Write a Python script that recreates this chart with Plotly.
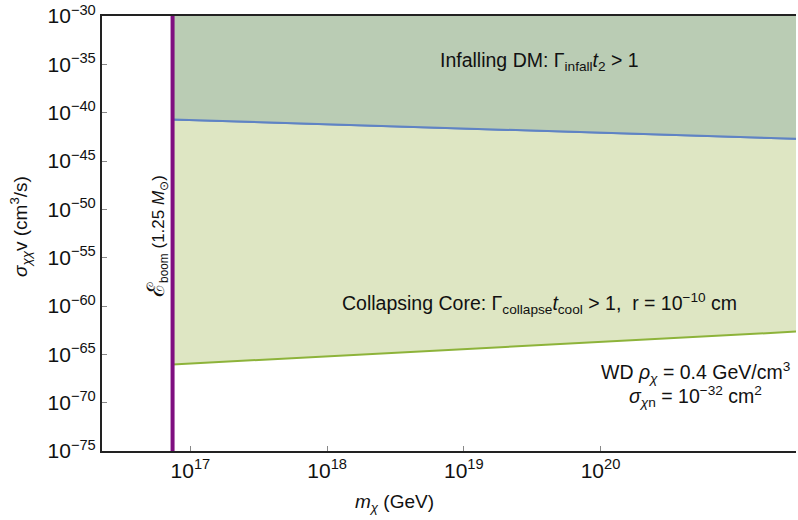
import numpy as np
import plotly.graph_objects as go

# Data (log-log boundaries)
boom_mass = 7.4e16                    # GeV, E_boom (1.25 Msun)
x_range_log = [16.353, 21.43]
infall_x = [7.4e16, 10**21.43]
infall_y = [10**-40.7, 10**-42.7]
collapse_x = [7.4e16, 10**21.43]
collapse_y = [10**-66.05, 10**-62.65]
y_top = 1e-30

xtick_vals = [1e17, 1e18, 1e19, 1e20]
xtick_text = ["10<sup>17</sup>", "10<sup>18</sup>", "10<sup>19</sup>", "10<sup>20</sup>"]
ytick_exps = [-30, -35, -40, -45, -50, -55, -60, -65, -70, -75]
ytick_vals = [10.0**e for e in ytick_exps]
ytick_text = ["10<sup>\u2212%d</sup>" % (-e) for e in ytick_exps]

FONT = "Liberation Sans, Arial, sans-serif"

fig = go.Figure()

fig.add_trace(go.Scatter(x=collapse_x, y=collapse_y, mode="lines",
                         line=dict(color="#8db33a", width=2), showlegend=False,
                         hoverinfo="skip"))
fig.add_trace(go.Scatter(x=infall_x, y=infall_y, mode="lines",
                         line=dict(color="#5f83c4", width=2), fill="tonexty",
                         fillcolor="rgb(222,230,195)", showlegend=False,
                         hoverinfo="skip"))
fig.add_trace(go.Scatter(x=infall_x + infall_x[::-1],
                         y=infall_y + [y_top, y_top], mode="lines",
                         line=dict(width=0), fill="toself",
                         fillcolor="rgb(186,204,180)", showlegend=False,
                         hoverinfo="skip"))
fig.add_trace(go.Scatter(x=infall_x, y=infall_y, mode="lines",
                         line=dict(color="#5f83c4", width=2), showlegend=False,
                         hoverinfo="skip"))
fig.add_trace(go.Scatter(x=[boom_mass, boom_mass], y=[1e-75, 1e-30], mode="lines",
                         line=dict(color="#7f0f80", width=4), showlegend=False,
                         hoverinfo="skip"))

W, H = 798, 520
ml, mr, mt, mb = 102, 2, 14, 69
pw, ph = W - ml - mr, H - mt - mb

def px_to_paper(xp, yp):
    return (xp - ml) / pw, (H - mb - yp) / ph

wx1, wy1 = px_to_paper(695, 372)
wx2, wy2 = px_to_paper(695, 396)
xtx, xty = px_to_paper(394, 503)
ytx, yty = px_to_paper(20, 226)

AS = 19.5
annots = [
    dict(x=19.55, y=-34.74, text="Infalling DM: \u0393<sub>infall</sub><i>t</i><sub>2</sub> > 1",
         font=dict(size=AS, color="#111"), showarrow=False, xref="x", yref="y",
         xanchor="center", yanchor="middle"),
    dict(x=19.55, y=-59.76, text="Collapsing Core: \u0393<sub>collapse</sub><i>t</i><sub>cool</sub> > 1,  r = 10<sup>\u221210</sup> cm",
         font=dict(size=AS, color="#111"), showarrow=False, xref="x", yref="y",
         xanchor="center", yanchor="middle"),
    dict(x=wx1, y=wy1, text="WD <i>\u03c1<sub>\u03c7</sub></i> = 0.4 GeV/cm<sup>3</sup>",
         font=dict(size=AS, color="#111"), showarrow=False, xref="paper", yref="paper",
         xanchor="center", yanchor="middle"),
    dict(x=wx2, y=wy2, text="<i>\u03c3</i><sub><i>\u03c7</i>n</sub> = 10<sup>\u221232</sup> cm<sup>2</sup>",
         font=dict(size=AS, color="#111"), showarrow=False, xref="paper", yref="paper",
         xanchor="center", yanchor="middle"),
    dict(x=np.log10(boom_mass), y=-52.8, xshift=-16,
         text="<span style=\"font-family:'DejaVu Serif';font-size:24px\">\u2130</span><sub>boom</sub> (1.25 <i>M</i><sub>\u2299</sub>)",
         textangle=-90, font=dict(size=17, color="#111"), showarrow=False, xref="x", yref="y",
         xanchor="center", yanchor="middle"),
    dict(x=xtx, y=xty, text="<i>m<sub>\u03c7</sub></i> (GeV)", font=dict(size=19, color="#111"),
         showarrow=False, xref="paper", yref="paper", xanchor="center", yanchor="middle"),
    dict(x=ytx, y=yty, text="<i>\u03c3<sub>\u03c7\u03c7</sub></i>v (cm<sup>3</sup>/s)", textangle=-90,
         font=dict(size=19, color="#111"),
         showarrow=False, xref="paper", yref="paper", xanchor="center", yanchor="middle"),
]

fig.update_layout(
    width=W, height=H,
    margin=dict(l=ml, r=mr, t=mt, b=mb),
    plot_bgcolor="white", paper_bgcolor="white",
    font=dict(family=FONT, size=17, color="#111"),
    annotations=annots,
    xaxis=dict(type="log", range=x_range_log, tickvals=xtick_vals, ticktext=xtick_text,
               ticks="inside", ticklen=5, tickcolor="#888", showgrid=False, zeroline=False,
               showline=True, linecolor="#222", linewidth=2, mirror=True,
               tickfont=dict(size=21), ticklabeloverflow="allow"),
    yaxis=dict(type="log", range=[-75.0001, -29.9999], tickvals=ytick_vals, ticktext=ytick_text,
               ticks="inside", ticklen=5, tickcolor="#888", showgrid=False, zeroline=False,
               showline=True, linecolor="#222", linewidth=2,
               tickfont=dict(size=21), ticklabeloverflow="allow"),
)

fig.write_html("out.html")
